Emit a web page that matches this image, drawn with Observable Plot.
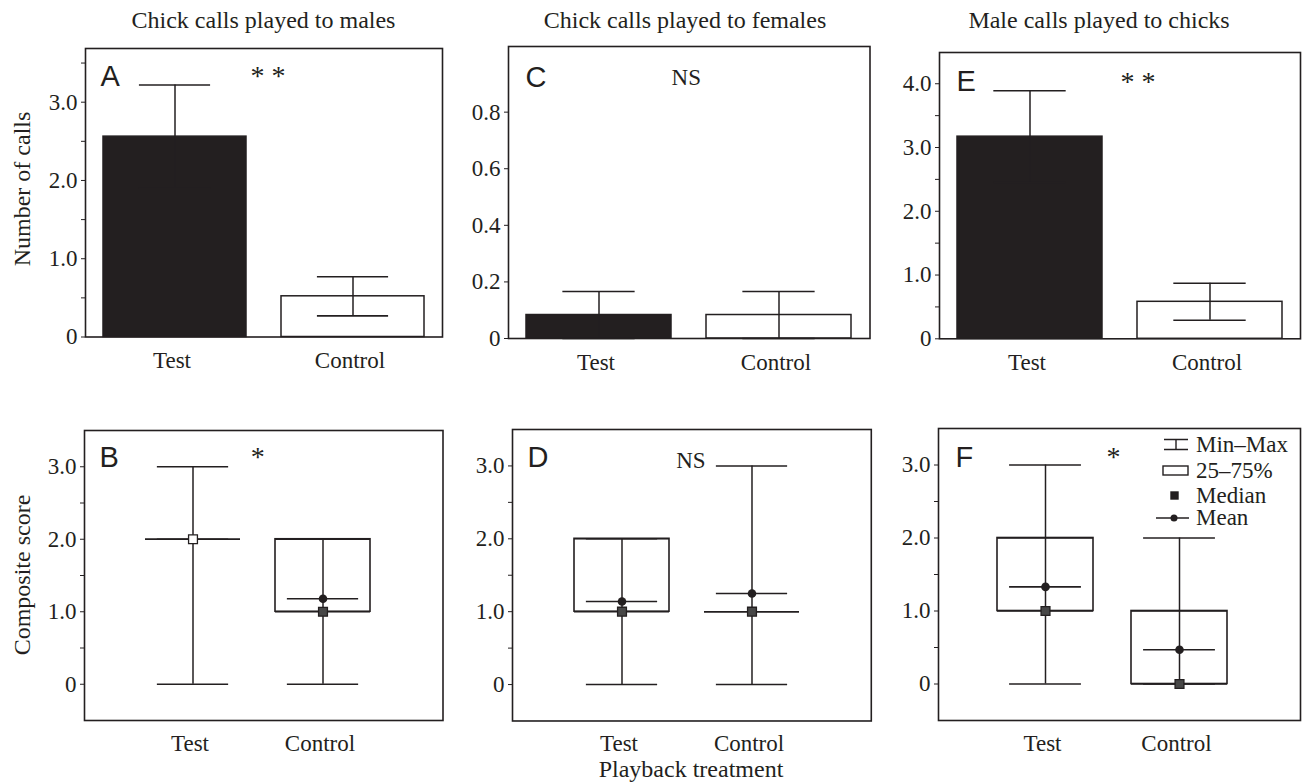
<!DOCTYPE html>
<html>
<head>
<meta charset="utf-8">
<script src="https://cdn.jsdelivr.net/npm/d3@7"></script>
<script src="https://cdn.jsdelivr.net/npm/@observablehq/plot@0.6"></script>
<style>
  body { margin: 0; background: #fff; }
  #fig { position: relative; width: 1304px; height: 784px; overflow: hidden; background: #fff; }
  .panel { position: absolute; }
  .panel svg { max-width: none !important; overflow: visible; display: block; }
  #overlay { position: absolute; left: 0; top: 0; pointer-events: none; }
</style>
</head>
<body>
<div id="fig"></div>
<script>
// ---------------- data ----------------
const groups = ["Test", "Control"];
const columnTitles = ["Chick calls played to males", "Chick calls played to females", "Male calls played to chicks"];
const rowLabels = ["Number of calls", "Composite score"];
const xTitle = "Playback treatment";
const legendLabels = ["Min–Max", "25–75%", "Median", "Mean"];

// Number of calls: mean and standard error (Test, Control)
const callsMeanA = [2.56, 0.52];
const callsSeA   = [0.66, 0.25];
const callsMeanC = [0.083, 0.083];
const callsSeC   = [0.083, 0.083];
const callsMeanE = [3.17, 0.58];
const callsSeE   = [0.72, 0.29];

// Composite score summaries (Test, Control)
const minB = [0, 0], maxB = [3, 2], q1B = [2, 1], q3B = [2, 2], medianB = [2, 1], meanB = [2.0, 1.18];
const minD = [0, 0], maxD = [2, 3], q1D = [1, 1], q3D = [2, 1], medianD = [1, 1], meanD = [1.14, 1.25];
const minF = [0, 0], maxF = [3, 2], q1F = [1, 0], q3F = [2, 1], medianF = [1, 0], meanF = [1.33, 0.47];

// axis ticks
const ticksA = [0, 1, 2, 3],  minorA = [0.5, 1.5, 2.5, 3.5];
const ticksC = [0, 0.2, 0.4, 0.6, 0.8], minorC = [];
const ticksE = [0, 1, 2, 3, 4], minorE = [0.5, 1.5, 2.5, 3.5];
const ticksScore = [0, 1, 2, 3], minorScore = [0.5, 1.5, 2.5];

// ---------------- styling / layout ----------------
const ink = "#231f20";
const serif = "'Liberation Serif', 'Times New Roman', serif";
const sans = "'Liberation Sans', Arial, sans-serif";
const mL = 80, mR = 6, mT = 6, mB = 50;
const fig = document.getElementById("fig");
const fmt = d => d === 0 ? "0" : d.toFixed(1);

const barRows = (means, ses) => groups.map((g, i) => ({group: g, mean: means[i], se: ses[i]}));
const boxRows = (mn, mx, q1, q3, med, mean) => groups.map((g, i) => ({group: g, min: mn[i], max: mx[i], q1: q1[i], q3: q3[i], median: med[i], mean: mean[i]}));

function bandwidth(cfg) {
  const w = cfg.x1 - cfg.x0;
  const step = w / (groups.length - cfg.pi + 2 * cfg.po);
  return step * (1 - cfg.pi);
}

function barMarks(rows, cfg) {
  const inset = bandwidth(cfg) / 4;
  return [
    Plot.barY(rows, {x: "group", y1: 0, y2: "mean", fill: d => d.group === "Test" ? ink : "white", stroke: ink, strokeWidth: 1.5}),
    Plot.ruleX(rows, {x: "group", y1: d => d.mean - d.se, y2: d => d.mean + d.se, stroke: ink, strokeWidth: 1.5}),
    Plot.tickY(rows, {x: "group", y: d => d.mean + d.se, insetLeft: inset, insetRight: inset, stroke: ink, strokeWidth: 1.6}),
    Plot.tickY(rows, {x: "group", y: d => d.mean - d.se, insetLeft: inset, insetRight: inset, stroke: ink, strokeWidth: 1.6})
  ];
}

function boxMarks(rows, cfg) {
  const inset = bandwidth(cfg) / 8;
  return [
    Plot.barY(rows, {x: "group", y1: "q1", y2: "q3", fill: "white", stroke: ink, strokeWidth: 1.6}),
    Plot.tickY(rows, {x: "group", y: "q1", stroke: ink, strokeWidth: 1.6}),
    Plot.tickY(rows, {x: "group", y: "q3", stroke: ink, strokeWidth: 1.6}),
    Plot.ruleX(rows, {x: "group", y1: "min", y2: "max", stroke: ink, strokeWidth: 1.5}),
    Plot.tickY(rows, {x: "group", y: "min", insetLeft: inset, insetRight: inset, stroke: ink, strokeWidth: 1.6}),
    Plot.tickY(rows, {x: "group", y: "max", insetLeft: inset, insetRight: inset, stroke: ink, strokeWidth: 1.6}),
    Plot.tickY(rows, {x: "group", y: "mean", insetLeft: inset, insetRight: inset, stroke: ink, strokeWidth: 1.6}),
    Plot.dot(rows, {x: "group", y: "mean", r: 4.3, fill: ink, stroke: null}),
    Plot.dot(rows, {x: "group", y: "median", symbol: "square", r: 5,
      fill: d => Math.abs(d.mean - d.median) < 0.05 ? "white" : "#474747", stroke: ink, strokeWidth: 1.3})
  ];
}

function panel(cfg, marks) {
  const w = cfg.x1 - cfg.x0, h = cfg.y1 - cfg.y0;
  const svg = Plot.plot({
    width: w + mL + mR,
    height: h + mT + mB,
    marginLeft: mL, marginRight: mR, marginTop: mT, marginBottom: mB,
    style: {fontFamily: serif, fontSize: "23px", color: ink, background: "transparent", overflow: "visible"},
    x: {type: "band", domain: groups, paddingInner: cfg.pi, paddingOuter: cfg.po, align: cfg.align},
    y: {domain: cfg.domain},
    marks: [
      ...marks,
      Plot.frame({stroke: ink, strokeWidth: 1.6}),
      Plot.axisY({ticks: cfg.ticks, tickFormat: fmt, tickSize: 4, tickPadding: 4, label: null}),
      ...(cfg.minor.length ? [Plot.axisY({ticks: cfg.minor, tickFormat: () => "", tickSize: 4, label: null})] : []),
      Plot.axisX({tickSize: 0, tickPadding: cfg.xPad, dx: -3, label: null}),
      Plot.text([cfg.letter], {text: d => d, frameAnchor: "top-left", textAnchor: "start", lineAnchor: "top",
        dx: cfg.ldx, dy: cfg.ldy, fontFamily: sans, fontSize: 29, fill: ink}),
      Plot.text([cfg.sig], {text: d => d, frameAnchor: "top", lineAnchor: "top",
        dx: cfg.sdx, dy: cfg.sdy, fontSize: cfg.sig.includes("*") ? 28 : 23, fill: ink})
    ]
  });
  const div = document.createElement("div");
  div.className = "panel";
  div.style.left = (cfg.x0 - mL) + "px";
  div.style.top = (cfg.y0 - mT) + "px";
  div.appendChild(svg);
  fig.appendChild(div);
  return svg;
}

const barBand = {pi: 0.196, po: 0.097, align: 0.5};

const cfgA = {...barBand, x0: 85, x1: 442, y0: 48, y1: 336.5, domain: [0, 3.686], ticks: ticksA, minor: minorA,
  letter: "A", ldx: 15, ldy: 17, sig: "* *", sdx: 4, sdy: 17, xPad: 15};
const cfgC = {...barBand, x0: 507.5, x1: 869, y0: 46, y1: 338, domain: [0, 1.032], ticks: ticksC, minor: minorC,
  letter: "C", ldx: 17, ldy: 20, sig: "NS", sdx: -3, sdy: 22, xPad: 15};
const cfgE = {...barBand, x0: 939, x1: 1300, y0: 52, y1: 338.3, domain: [0, 4.49], ticks: ticksE, minor: minorE,
  letter: "E", ldx: 17, ldy: 18, sig: "* *", sdx: 18, sdy: 19, xPad: 15};
const cfgB = {pi: 0.27, po: 0.513, align: 0.46, x0: 83.5, x1: 442, y0: 430, y1: 720, domain: [-0.5, 3.5],
  ticks: ticksScore, minor: minorScore, letter: "B", ldx: 15, ldy: 16, sig: "*", sdx: -6, sdy: 16, xPad: 14};
const cfgD = {pi: 0.27, po: 0.513, align: 0.46, x0: 511.7, x1: 870.5, y0: 428.5, y1: 720, domain: [-0.5, 3.5],
  ticks: ticksScore, minor: minorScore, letter: "D", ldx: 15, ldy: 17, sig: "NS", sdx: -1, sdy: 22, xPad: 14};
const cfgF = {pi: 0.284, po: 0.483, align: 0.45, x0: 937.5, x1: 1299.5, y0: 427.5, y1: 719.5, domain: [-0.5, 3.5],
  ticks: ticksScore, minor: minorScore, letter: "F", ldx: 17, ldy: 18, sig: "*", sdx: -6, sdy: 18, xPad: 14};

panel(cfgA, barMarks(barRows(callsMeanA, callsSeA), cfgA));
panel(cfgC, barMarks(barRows(callsMeanC, callsSeC), cfgC));
panel(cfgE, barMarks(barRows(callsMeanE, callsSeE), cfgE));
panel(cfgB, boxMarks(boxRows(minB, maxB, q1B, q3B, medianB, meanB), cfgB));
panel(cfgD, boxMarks(boxRows(minD, maxD, q1D, q3D, medianD, meanD), cfgD));
const svgF = panel(cfgF, boxMarks(boxRows(minF, maxF, q1F, q3F, medianF, meanF), cfgF));

// ---------------- legend in panel F ----------------
{
  const g = d3.select(svgF).append("g")
    .attr("transform", `translate(${mL},${mT})`)
    .attr("stroke", ink).attr("stroke-width", 1.4).attr("fill", "none");
  const rowY = [16.5, 42.5, 67.5, 90];
  // Min–Max icon
  g.append("path").attr("d", `M226,${rowY[0] - 5}H250M226,${rowY[0] + 5}H250M238,${rowY[0] - 5}V${rowY[0] + 5}`);
  // 25–75% icon
  g.append("rect").attr("x", 225).attr("y", rowY[1] - 4.5).attr("width", 25).attr("height", 9).attr("fill", "white");
  // Median icon
  g.append("rect").attr("x", 233).attr("y", rowY[2] - 3.5).attr("width", 7).attr("height", 7).attr("fill", ink);
  // Mean icon
  g.append("path").attr("d", `M218,${rowY[3]}H251`);
  g.append("circle").attr("cx", 236).attr("cy", rowY[3]).attr("r", 3.5).attr("fill", ink).attr("stroke", "none");
  g.selectAll("text.leg").data(legendLabels).join("text")
    .attr("class", "leg")
    .attr("x", 258).attr("y", (d, i) => rowY[i]).attr("dy", "0.32em")
    .attr("text-anchor", "start")
    .attr("fill", ink).attr("stroke", "none")
    .attr("font-family", serif).attr("font-size", 23)
    .text(d => d);
}

// ---------------- titles & axis titles ----------------
{
  const ov = d3.select(fig).append("svg").attr("id", "overlay")
    .attr("width", 1304).attr("height", 784)
    .attr("font-family", serif).attr("font-size", 24).attr("fill", ink);
  const titleX = [263.5, 685, 1099];
  ov.selectAll("text.title").data(columnTitles).join("text")
    .attr("class", "title").attr("x", (d, i) => titleX[i]).attr("y", 28)
    .attr("text-anchor", "middle").text(d => d);
  const labelY = [189, 575];
  ov.selectAll("text.ylab").data(rowLabels).join("text")
    .attr("class", "ylab")
    .attr("transform", (d, i) => `translate(30,${labelY[i]}) rotate(-90)`)
    .attr("text-anchor", "middle").text(d => d);
  ov.append("text").attr("x", 691).attr("y", 777).attr("text-anchor", "middle").text(xTitle);
}
</script>
</body>
</html>
